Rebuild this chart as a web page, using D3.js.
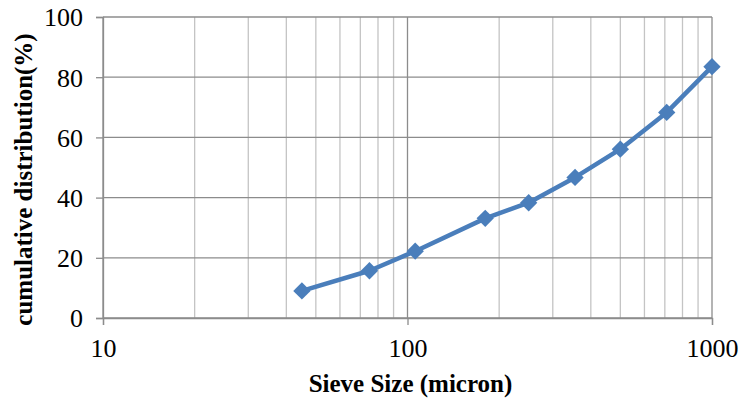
<!DOCTYPE html>
<html>
<head>
<meta charset="utf-8">
<script src="https://cdn.jsdelivr.net/npm/d3@7"></script>
<style>
  body { margin: 0; background: #fff; }
  text { font-family: "Liberation Serif", "Times New Roman", serif; fill: #000; }
</style>
</head>
<body>
<div id="chart"></div>
<script>
const sieve_sizes = [45, 75, 106, 180, 250, 355, 500, 710, 1000];
const cumulative = [9.0, 15.7, 22.2, 33.1, 38.3, 46.7, 56.1, 68.3, 83.5];
const x_ticks = [10, 100, 1000];
const y_ticks = [0, 20, 40, 60, 80, 100];

const margin = { top: 17, right: 27, bottom: 83, left: 103 },
    width = 739 - margin.left - margin.right,
    height = 401 - margin.top - margin.bottom;

const svg = d3.select("#chart").append("svg")
    .attr("width", 739)
    .attr("height", 401);

const g = svg.append("g")
    .attr("transform", `translate(${margin.left},${margin.top})`);

const x = d3.scaleLog().domain([10, 1000]).range([0, width]);
const y = d3.scaleLinear().domain([0, 100]).range([height, 0]);

// minor vertical gridlines (2..9 per decade)
const minor = [];
[10, 100].forEach(function (d) {
    for (let k = 2; k <= 9; k++) minor.push(d * k);
});
g.selectAll(".minor")
    .data(minor)
    .enter().append("line")
    .attr("x1", d => x(d)).attr("x2", d => x(d))
    .attr("y1", 0).attr("y2", height)
    .attr("stroke", "#c4c4c4")
    .attr("stroke-width", 1.3);

// major vertical gridlines
g.selectAll(".major-x")
    .data(x_ticks)
    .enter().append("line")
    .attr("x1", d => x(d)).attr("x2", d => x(d))
    .attr("y1", 0).attr("y2", height)
    .attr("stroke", "#8c8c8c")
    .attr("stroke-width", 1.3);

// horizontal gridlines
g.selectAll(".major-y")
    .data(y_ticks)
    .enter().append("line")
    .attr("x1", 0).attr("x2", width)
    .attr("y1", d => y(d)).attr("y2", d => y(d))
    .attr("stroke", "#8c8c8c")
    .attr("stroke-width", 1.3);

// axes
const xAxis = g.append("g")
    .attr("transform", `translate(0,${height})`)
    .call(d3.axisBottom(x).tickValues(x_ticks).tickFormat(d3.format("d")).tickSize(7).tickPadding(14));
const yAxis = g.append("g")
    .call(d3.axisLeft(y).tickValues(y_ticks).tickSize(7).tickPadding(13));

[xAxis, yAxis].forEach(function (a) {
    a.select(".domain").attr("stroke", "#8c8c8c").attr("stroke-width", 1.3);
    a.selectAll(".tick line").attr("stroke", "#8c8c8c").attr("stroke-width", 1.3);
    a.selectAll("text")
        .style("font-family", '"Liberation Serif", "Times New Roman", serif')
        .style("font-size", "26px")
        .attr("fill", "#000");
});
yAxis.selectAll("text").attr("dy", "0.34em");
xAxis.selectAll("text").attr("dy", "0.71em");

// series line
const pts = sieve_sizes.map((s, i) => ({ s: s, v: cumulative[i] }));
g.append("path")
    .datum(pts)
    .attr("fill", "none")
    .attr("stroke", "#4a7ebb")
    .attr("stroke-width", 4.5)
    .attr("stroke-linejoin", "round")
    .attr("d", d3.line().x(d => x(d.s)).y(d => y(d.v)));

// diamond markers
g.selectAll(".pt")
    .data(pts)
    .enter().append("path")
    .attr("d", d3.symbol().type(d3.symbolSquare).size(150))
    .attr("transform", d => `translate(${x(d.s)},${y(d.v)}) rotate(45)`)
    .attr("fill", "#4a7ebb");

// axis titles
svg.append("text")
    .attr("x", margin.left + x(100) + 3)
    .attr("y", 392)
    .attr("text-anchor", "middle")
    .style("font-weight", "bold")
    .style("font-size", "25px")
    .text("Sieve Size (micron)");

svg.append("text")
    .attr("transform", `translate(32,${margin.top + height / 2 + 12}) rotate(-90)`)
    .attr("text-anchor", "middle")
    .style("font-weight", "bold")
    .style("font-size", "25px")
    .text("cumulative distribution(%)");
</script>
</body>
</html>
